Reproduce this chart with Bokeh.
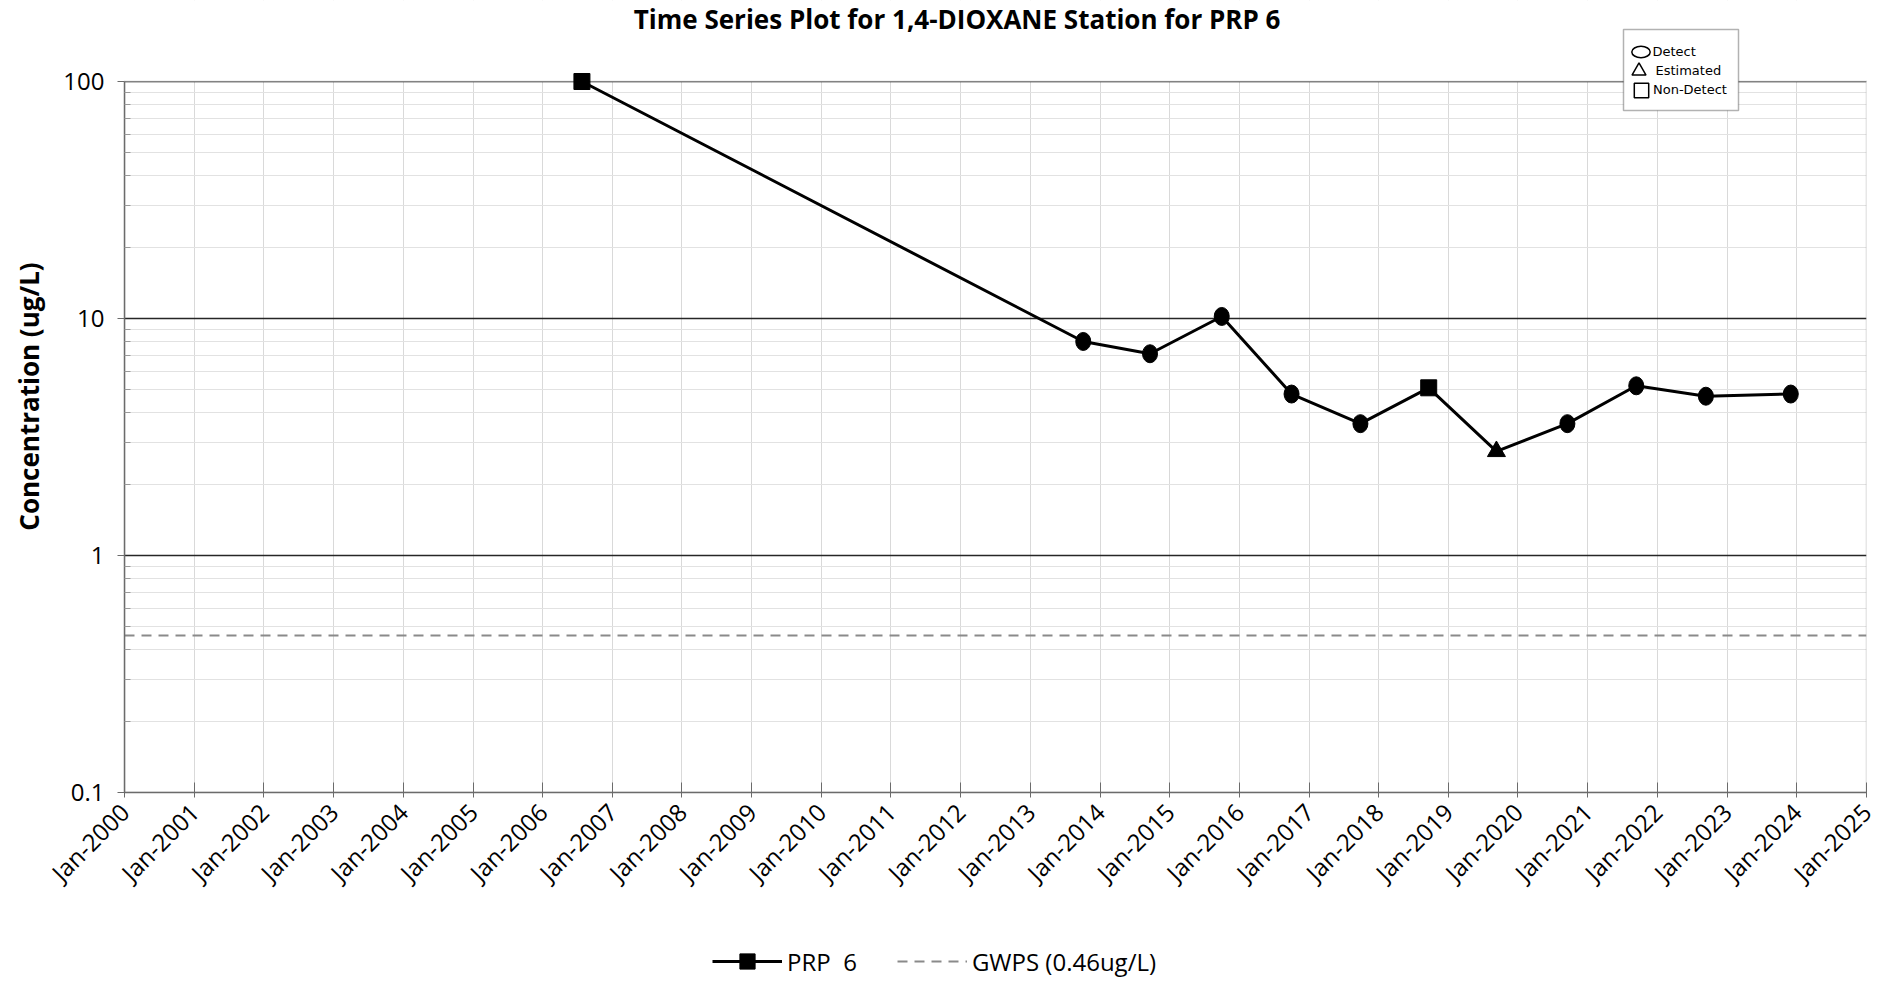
import math
import calendar
from datetime import datetime
from bokeh.plotting import figure
from bokeh.layouts import column
from bokeh.models import (Range1d, FixedTicker, DatetimeTickFormatter, Legend, LegendItem,
                          ColumnDataSource, BoxAnnotation, Label)
from bokeh.embed import file_html
from bokeh.resources import INLINE

# ---------------- data ----------------
title_text = "Time Series Plot for 1,4-DIOXANE Station for PRP  6"
series_name = "PRP  6"
gwps_label = "GWPS (0.46ug/L)"
gwps_value = 0.46
sample_dates = ["2006-07-26", "2013-10-05", "2014-09-20", "2015-10-01", "2016-10-01",
                "2017-09-27", "2018-09-20", "2019-09-10", "2020-09-16", "2021-09-12",
                "2022-09-12", "2023-12-01"]
concentrations = [100, 8.0, 7.1, 10.2, 4.8, 3.6, 5.1, 2.75, 3.6, 5.2, 4.7, 4.8]
qualifiers = ["Non-Detect", "Detect", "Detect", "Detect", "Detect", "Detect",
              "Non-Detect", "Estimated", "Detect", "Detect", "Detect", "Detect"]
qualifier_legend = ["Detect", "Estimated", "Non-Detect"]
tick_years = list(range(2000, 2026))
y_ticks = [0.1, 1, 10, 100]
y_tick_labels = ["0.1", "1", "10", "100"]
y_label = "Concentration (ug/L)"

FONT = "Open Sans"

# ---------------- layout constants (pixels) ----------------
W, H = 1897, 983
LEG_H = 43                      # height of the strip that holds the bottom legend
H_MAIN = H - LEG_H
FR_LEFT, FR_RIGHT, FR_BOTTOM = 124, 1866, 792
TOP_OF_DATA = 81                # pixel row of the 100 line; frame extends to canvas top
DECADE_PX = (FR_BOTTOM - TOP_OF_DATA) / 3.0
y_top = y_ticks[-1] * 10 ** (TOP_OF_DATA / DECADE_PX)

dates = [datetime.strptime(d, "%Y-%m-%d") for d in sample_dates]
x_start = datetime(tick_years[0], 1, 1)
x_end = datetime(tick_years[-1], 1, 1)
ms = lambda d: calendar.timegm(d.timetuple()) * 1000

p = figure(width=W, height=H_MAIN, x_axis_type="datetime", y_axis_type="log",
           x_range=Range1d(x_start, x_end), y_range=Range1d(y_ticks[0], y_top),
           output_backend="svg", toolbar_location=None, title=None,
           min_border_left=FR_LEFT, min_border_right=W - FR_RIGHT, min_border_top=0,
           min_border_bottom=H_MAIN - FR_BOTTOM)

p.background_fill_color = "white"
p.border_fill_color = "white"
p.outline_line_color = None

# ---------------- x axis ----------------
xticker = FixedTicker(ticks=[ms(datetime(y, 1, 1)) for y in tick_years])
p.xaxis.ticker = xticker
p.xgrid.ticker = xticker
p.xaxis.formatter = DatetimeTickFormatter(years="%b-%Y", months="%b-%Y", days="%b-%Y",
                                          hours="%b-%Y", minutes="%b-%Y", seconds="%b-%Y")
p.xaxis.major_label_orientation = math.pi / 4
p.xaxis.major_label_text_font = FONT
p.xaxis.major_label_text_font_size = "24px"
p.xaxis.major_label_text_color = "black"
p.xaxis.major_tick_in = 10
p.xaxis.major_tick_out = 5
p.xaxis.minor_tick_line_color = None
p.xaxis.axis_line_color = "#6b6b6b"
p.xaxis.axis_line_width = 1.5
p.xaxis.major_tick_line_color = "#6b6b6b"
p.xaxis.major_label_standoff = 10
p.xgrid.grid_line_color = "#d9d9d9"
p.xgrid.grid_line_width = 1

# ---------------- y axis ----------------
minor_y = [k * 10.0 ** e for e in (-1, 0, 1) for k in range(2, 10)]
yticker = FixedTicker(ticks=y_ticks, minor_ticks=minor_y)
p.yaxis.ticker = yticker
p.ygrid.ticker = yticker
p.yaxis.bounds = (y_ticks[0], y_ticks[-1])
p.yaxis.major_label_overrides = {t: lab for t, lab in zip(y_ticks, y_tick_labels)}
p.yaxis.major_label_text_font = FONT
p.yaxis.major_label_text_font_size = "24px"
p.yaxis.major_label_text_color = "black"
p.yaxis.major_tick_in = 0
p.yaxis.major_tick_out = 7
p.yaxis.minor_tick_in = 6
p.yaxis.minor_tick_out = 0
p.yaxis.major_label_standoff = 13
p.yaxis.axis_line_color = "#6b6b6b"
p.yaxis.axis_line_width = 1.5
p.yaxis.major_tick_line_color = "#6b6b6b"
p.yaxis.minor_tick_line_color = "#9a9a9a"
p.yaxis.axis_label = y_label
p.yaxis.axis_label_text_font = FONT
p.yaxis.axis_label_text_font_size = "26px"
p.yaxis.axis_label_text_font_style = "bold"
p.yaxis.axis_label_text_color = "black"
p.yaxis.axis_label_standoff = 13
p.ygrid.grid_line_color = "#262626"
p.ygrid.grid_line_width = 1.3
p.ygrid.minor_grid_line_color = "#e2e2e2"
p.ygrid.minor_grid_line_width = 1

# blank band above the 100 line and the plot border
p.add_layout(BoxAnnotation(bottom=y_ticks[-1], fill_color="white", fill_alpha=1,
                           line_color=None, level="underlay"))
p.add_layout(BoxAnnotation(left=ms(x_start), right=ms(x_end), bottom=y_ticks[0], top=y_ticks[-1],
                           fill_alpha=0, line_color="#5e5e5e", line_width=1.5, level="underlay"))

# ---------------- series ----------------
GWPS_STYLE = dict(line_color="#8a8a8a", line_width=2, line_dash="10 7")
LINE_STYLE = dict(line_color="black", line_width=3)
SQ_STYLE = dict(marker="square", size=16, fill_color="black", line_color="black")
OPEN = dict(fill_color="white", line_color="black", line_width=1.5)

def pick(q):
    xs = [d for d, qq in zip(dates, qualifiers) if qq == q]
    ys = [c for c, qq in zip(concentrations, qualifiers) if qq == q]
    return xs, ys

dx, dy = pick("Detect")
ex, ey = pick("Estimated")
nx, ny = pick("Non-Detect")

p.line(x=[x_start, x_end], y=[gwps_value, gwps_value], **GWPS_STYLE)

# open symbols for the symbol key (drawn small, hidden beneath the filled data markers)
key_r = [p.ellipse(x=dx, y=dy, width=13, height=8, width_units="screen", height_units="screen", **OPEN),
         p.scatter(x=ex, y=ey, marker="triangle", size=12, **OPEN),
         p.rect(x=nx, y=ny, width=12, height=12, width_units="screen", height_units="screen", **OPEN)]

src = ColumnDataSource(dict(date=dates, conc=concentrations))
p.line("date", "conc", source=src, **LINE_STYLE)
p.ellipse(x=dx, y=dy, width=15, height=18, width_units="screen", height_units="screen",
          fill_color="black", line_color="black")
p.scatter(x=nx, y=ny, **SQ_STYLE)
p.scatter(x=ex, y=ey, marker="triangle", size=18, fill_color="black", line_color="black")

# ---------------- title ----------------
p.add_layout(Label(x=960 - FR_LEFT, y=FR_BOTTOM - 18, x_units="screen", y_units="screen",
                   text=title_text, text_align="center", text_baseline="middle",
                   text_font=FONT, text_font_size="26px", text_font_style="bold",
                   text_color="black"))

# ---------------- symbol key: white box + one legend per symbol ----------------
p.add_layout(BoxAnnotation(left=1623 - FR_LEFT, right=1738 - FR_LEFT,
                           bottom=FR_BOTTOM - 110, top=FR_BOTTOM - 29,
                           left_units="screen", right_units="screen",
                           bottom_units="screen", top_units="screen",
                           fill_color="white", fill_alpha=1, line_color="black", line_width=1.5))
# (glyph box size, glyph centre x, glyph centre y, label standoff) in page pixels
key_geom = [(23, 1640, 51, 1), (35, 1638, 70, 0), (18, 1641, 89.5, 3)]
for lab, r, (gb, cx, cy, so) in zip(qualifier_legend, key_r, key_geom):
    lg = Legend(items=[LegendItem(label=lab, renderers=[r])],
                location=(cx - gb / 2 - FR_LEFT, FR_BOTTOM - (cy + gb / 2)),
                orientation="vertical")
    lg.label_text_font = "DejaVu Sans"
    lg.label_text_font_size = "13px"
    lg.label_text_color = "black"
    lg.glyph_width = gb
    lg.glyph_height = gb
    lg.label_height = gb
    lg.label_standoff = so
    lg.padding = 0
    lg.margin = 0
    lg.spacing = 0
    lg.border_line_color = None
    lg.background_fill_alpha = 0
    p.add_layout(lg, "center")

# ---------------- bottom legend strip ----------------
q = figure(width=W, height=LEG_H, x_range=Range1d(0, 1), y_range=Range1d(0, 1),
           output_backend="svg", toolbar_location=None, title=None,
           x_axis_location=None, y_axis_location=None,
           min_border_left=0, min_border_right=0, min_border_top=0, min_border_bottom=0)
q.outline_line_color = None
q.xgrid.visible = False
q.ygrid.visible = False
# same series drawn far outside this strip's ranges: only their legend glyphs show
q_line = q.line("date", "conc", source=src, **LINE_STYLE)
q_sq = q.scatter(x=nx, y=ny, **SQ_STYLE)
q_gwps = q.line(x=[x_start, x_end], y=[gwps_value, gwps_value], **GWPS_STYLE)
leg_bottom = Legend(items=[LegendItem(label=series_name, renderers=[q_line, q_sq]),
                           LegendItem(label=gwps_label, renderers=[q_gwps])],
                    location=(712 - FR_LEFT, 3), orientation="horizontal")
leg_bottom.label_text_font = FONT
leg_bottom.label_text_font_size = "24px"
leg_bottom.label_text_color = "black"
leg_bottom.glyph_width = 70
leg_bottom.glyph_height = 38    # square drawn at 0.4 x 38 -> ~15 px
leg_bottom.label_height = 24
leg_bottom.label_standoff = 5
leg_bottom.spacing = 40
leg_bottom.padding = 0
leg_bottom.margin = 0
leg_bottom.border_line_color = None
leg_bottom.background_fill_alpha = 0
q.add_layout(leg_bottom, "center")

open("out.html", "w").write(file_html(column(p, q, spacing=0), INLINE))
